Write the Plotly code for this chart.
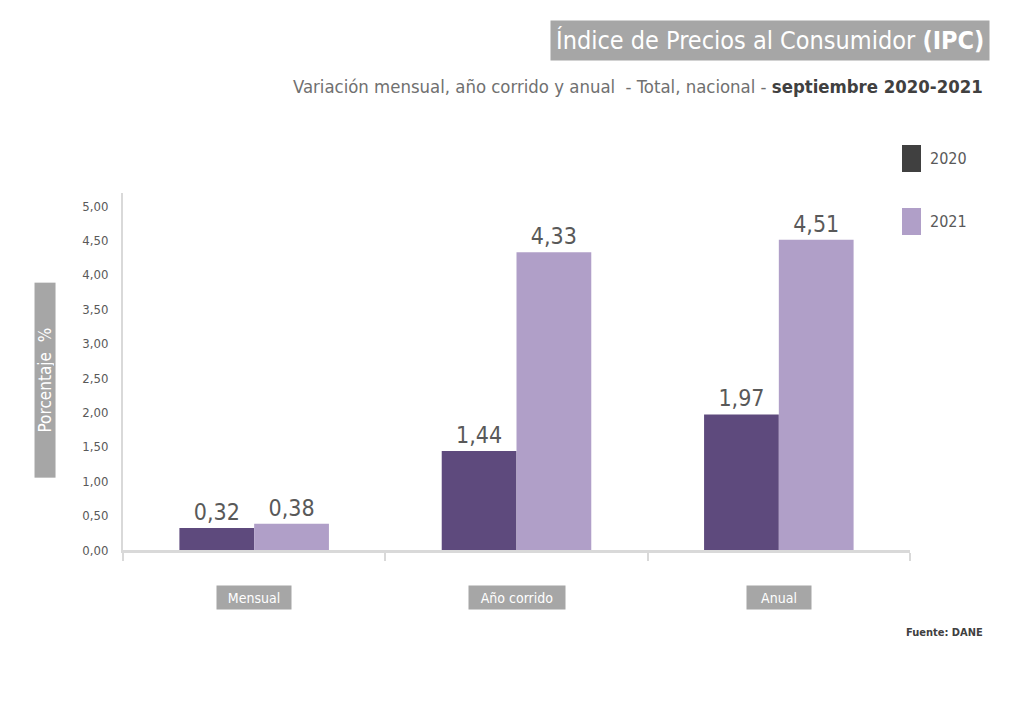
import plotly.graph_objects as go

categories = ["Mensual", "Año corrido", "Anual"]
values_2020 = [0.32, 1.44, 1.97]
values_2021 = [0.38, 4.33, 4.51]
series_names = ["2020", "2021"]
tick_vals = [0, 0.5, 1, 1.5, 2, 2.5, 3, 3.5, 4, 4.5, 5]

FONT = "Liberation Sans Narrow, DejaVu Sans Condensed, Arial Narrow, sans-serif"
C2020 = "#5e4a7d"
C2021 = "#b09fc8"
LEG2020 = "#404040"
GRAY_BOX = "#a6a6a6"
TXT = "#595959"
label_box_widths = [72, 94, 62]

fig = go.Figure()
for name, vals, col in [(series_names[0], values_2020, C2020), (series_names[1], values_2021, C2021)]:
    fig.add_trace(go.Bar(x=categories, y=vals, name=name, marker_color=col,
                         marker_line_width=0,
                         texttemplate="%{y:.2f}", textposition="outside",
                         textfont=dict(size=23, color=TXT, family=FONT),
                         showlegend=False, cliponaxis=False))

annotations = [
    dict(text="Índice de Precios al Consumidor <b>(IPC)</b>", x=1.1017, y=1.426,
         xref="paper", yref="paper", xanchor="right", yanchor="middle", showarrow=False,
         font=dict(size=25, color="white", family=FONT), bgcolor=GRAY_BOX, borderpad=5),
    dict(text="Variación mensual, año corrido y anual  - Total, nacional - <b><span style='color:#404040'>septiembre 2020-2021</span></b>",
         x=1.0953, y=1.297, xref="paper", yref="paper", xanchor="right", yanchor="middle",
         showarrow=False, font=dict(size=18.4, color="#707070", family=FONT)),
    dict(text="Porcentaje  %", x=-0.099, y=0.476, xref="paper", yref="paper",
         xanchor="center", yanchor="middle", width=192, height=18, align="center",
         textangle=-90, showarrow=False, font=dict(size=17, color="white", family=FONT),
         bgcolor=GRAY_BOX, borderpad=1),
    dict(text="<b>Fuente: DANE</b>", x=1.0953, y=-0.23, xref="paper", yref="paper",
         xanchor="right", yanchor="middle", showarrow=False,
         font=dict(size=11, color="#404040", family=FONT)),
    dict(text=series_names[0], x=1.0229, y=1.098, xref="paper", yref="paper",
         xanchor="left", yanchor="middle", showarrow=False,
         font=dict(size=16, color=TXT, family=FONT)),
    dict(text=series_names[1], x=1.0229, y=0.9188, xref="paper", yref="paper",
         xanchor="left", yanchor="middle", showarrow=False,
         font=dict(size=16, color=TXT, family=FONT)),
]
for c, w in zip(categories, label_box_widths):
    annotations.append(dict(text=c, x=c, y=-0.134, xref="x", yref="paper",
                            xanchor="center", yanchor="middle", width=w, height=21,
                            align="center",
                            showarrow=False, font=dict(size=14, color="white", family=FONT),
                            bgcolor=GRAY_BOX, borderpad=1))

shapes = [
    dict(type="rect", xref="paper", yref="paper", x0=0.9898, x1=1.014, y0=1.0588, y1=1.1345,
         fillcolor=LEG2020, line=dict(width=0)),
    dict(type="rect", xref="paper", yref="paper", x0=0.9898, x1=1.014, y0=0.8824, y1=0.958,
         fillcolor=C2021, line=dict(width=0)),
]

fig.update_layout(
    width=1024, height=724,
    margin=dict(l=115, r=122, t=185, b=182, autoexpand=False),
    paper_bgcolor="white", plot_bgcolor="white",
    separators=",.",
    barmode="group", bargap=0.43, bargroupgap=0,
    font=dict(family=FONT, color=TXT),
    annotations=annotations,
    shapes=shapes,
    showlegend=False,
    xaxis=dict(showticklabels=False, tickson="boundaries", ticks="outside", ticklen=8,
               tickcolor="#d9d9d9", tickwidth=1.5, showline=True, linecolor="#d9d9d9",
               linewidth=3, showgrid=False, zeroline=False),
    yaxis=dict(range=[0, 5.19], tickvals=tick_vals, tickformat=".2f",
               tickfont=dict(size=13, color=TXT, family=FONT),
               showline=True, linecolor="#d9d9d9", linewidth=2, showgrid=False,
               zeroline=False, ticks="", ticklabelstandoff=10),
)

fig.write_html("out.html")
